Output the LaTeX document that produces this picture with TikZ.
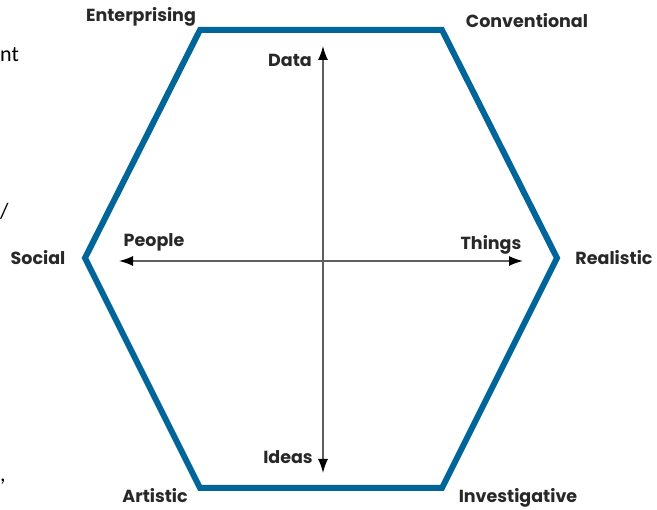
\documentclass[tikz,border=0pt]{standalone}
\usepackage{fontspec}
\setmainfont{Poppins}
\newfontfamily\edgefont{Carlito}
\usetikzlibrary{arrows.meta}
\definecolor{hexblue}{RGB}{0,101,152}
\definecolor{labgray}{RGB}{40,40,40}
\definecolor{axisgray}{RGB}{95,95,95}
\begin{document}
\begin{tikzpicture}[x=1pt,y=-1pt,
  lab/.style={font=\fontsize{17.5}{19}\selectfont\bfseries, text=labgray, inner sep=0pt},
  axis/.style={draw=axisgray, line width=1.5pt, -{Latex[length=14pt,width=10pt,black]}},
  edge/.style={font=\fontsize{22}{24}\selectfont\edgefont, inner sep=0pt, anchor=west}]
\useasboundingbox (0,0) rectangle (657,510);
% hexagon
\coordinate (tl) at (200,30);
\coordinate (tr) at (442,30);
\coordinate (r) at (557,258);
\coordinate (br) at (442,488);
\coordinate (bl) at (200,488);
\coordinate (l) at (85,258);
\draw[hexblue, line width=6pt, line join=miter] (tl) -- (tr) -- (r) -- (br) -- (bl) -- (l) -- cycle;
% axes
\coordinate (c) at (323,261);
\coordinate (top) at (323,46);
\coordinate (bot) at (323,473);
\coordinate (lft) at (119,261);
\coordinate (rgt) at (523,261);
\draw[axis] (c) -- (top);
\draw[axis] (c) -- (bot);
\draw[axis] (c) -- (lft);
\draw[axis] (c) -- (rgt);
% labels
\node[lab] (ent) at (141,17) {Enterprising};
\node[lab] (con) at (527,21) {Conventional};
\node[lab] (soc) at (38,258) {Social};
\node[lab] (rea) at (614,258) {Realistic};
\node[lab] (art) at (155,496) {Artistic};
\node[lab] (inv) at (518,498) {Investigative};
\node[lab] (dat) at (290,60) {Data};
\node[lab] (ide) at (288,457) {Ideas};
\node[lab] (peo) at (154,242) {People};
\node[lab] (thi) at (491,245) {Things};
% cut-off fragments at left edge
\node[edge] (f1) at (0,55) {nt};
\node[edge] (f2) at (0,211) {/};
\node[edge] (f3) at (0,482) {,};
\end{tikzpicture}
\end{document}
